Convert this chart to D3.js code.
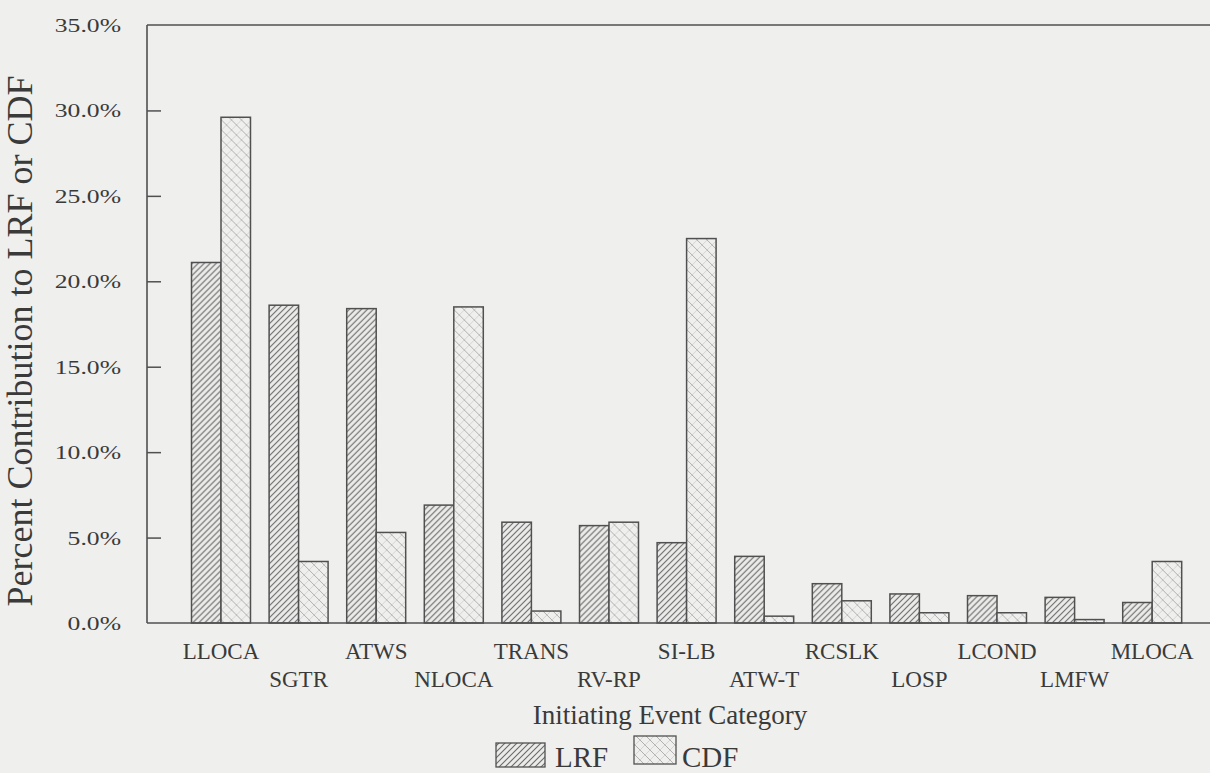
<!DOCTYPE html>
<html>
<head>
<meta charset="utf-8">
<script src="https://cdn.jsdelivr.net/npm/d3@7"></script>
<style>
  html, body { margin: 0; padding: 0; background: #efefed; }
  svg { display: block; }
  text { font-family: "Liberation Serif", "DejaVu Serif", serif; fill: #3a3a3a; }
</style>
</head>
<body>
<svg id="chart" width="1210" height="773"></svg>
<script>
// Initiating event categories, in plotted order
const categories = ["LLOCA", "SGTR", "ATWS", "NLOCA", "TRANS", "RV-RP", "SI-LB",
                    "ATW-T", "RCSLK", "LOSP", "LCOND", "LMFW", "MLOCA"];
const seriesNames = ["LRF", "CDF"];
// Percent contribution to large release frequency
const lrfValues = [21.1, 18.6, 18.4, 6.9, 5.9, 5.7, 4.7, 3.9, 2.3, 1.7, 1.6, 1.5, 1.2];
// Percent contribution to core damage frequency
const cdfValues = [29.6, 3.6, 5.3, 18.5, 0.7, 5.9, 22.5, 0.4, 1.3, 0.6, 0.6, 0.2, 3.6];
const yTicks = [0, 5, 10, 15, 20, 25, 30, 35];

const svg = d3.select("#chart");
const W = 1210;
const axisX = 147, plotTop = 25, plotBottom = 623;

// hatch patterns for the two series
const defs = svg.append("defs");
const pL = defs.append("pattern").attr("id", "hatchLRF")
  .attr("patternUnits", "userSpaceOnUse").attr("width", 6).attr("height", 6);
pL.append("rect").attr("width", 6).attr("height", 6).attr("fill", "#ebebe9");
pL.append("path").attr("d", "M-1,1 l2,-2 M0,6 l6,-6 M5,7 l2,-2")
  .attr("stroke", "#6a6a6a").attr("stroke-width", 1.1);

const pC = defs.append("pattern").attr("id", "hatchCDF")
  .attr("patternUnits", "userSpaceOnUse").attr("width", 10).attr("height", 10);
pC.append("rect").attr("width", 10).attr("height", 10).attr("fill", "#efefed");
pC.append("path").attr("d", "M0,0 l10,10 M-1,9 l2,2 M9,-1 l2,2")
  .attr("stroke", "#a8a8a8").attr("stroke-width", 0.9);
pC.append("path").attr("d", "M0,10 l10,-10")
  .attr("stroke", "#c8c8c8").attr("stroke-width", 0.7);

const fills = { LRF: "url(#hatchLRF)", CDF: "url(#hatchCDF)" };

// scales
const x0 = d3.scaleBand().domain(categories).range([182.2, 1191])
  .paddingInner(0.24).paddingOuter(0.12);
const x1 = d3.scaleBand().domain(seriesNames).range([0, x0.bandwidth()]);
const y = d3.scaleLinear().domain([0, 35]).range([plotBottom, plotTop]);

const data = categories.map((c, i) => ({ cat: c, LRF: lrfValues[i], CDF: cdfValues[i] }));

// bars
const groups = svg.append("g").selectAll("g").data(data).join("g")
  .attr("transform", d => `translate(${x0(d.cat)},0)`);
groups.selectAll("rect")
  .data(d => seriesNames.map(s => ({ s, v: d[s] })))
  .join("rect")
  .attr("x", d => x1(d.s))
  .attr("y", d => y(d.v))
  .attr("width", x1.bandwidth())
  .attr("height", d => y(0) - y(d.v))
  .attr("fill", d => fills[d.s])
  .attr("stroke", "#505050")
  .attr("stroke-width", 1.5);

// frame: left axis, top line, baseline
const frame = svg.append("g").attr("stroke", "#505050").attr("stroke-width", 1.6);
frame.append("line").attr("x1", axisX).attr("x2", axisX).attr("y1", y(35)).attr("y2", y(0));
frame.append("line").attr("x1", axisX).attr("x2", W).attr("y1", y(35)).attr("y2", y(35));
frame.append("line").attr("x1", axisX).attr("x2", W).attr("y1", y(0)).attr("y2", y(0));

// y axis ticks (inward) and labels
const yAxis = d3.axisRight(y).tickValues(yTicks).tickSize(14).tickFormat("");
const yg = svg.append("g").attr("transform", `translate(${axisX},0)`).call(yAxis);
yg.select(".domain").remove();
yg.selectAll(".tick line").attr("stroke", "#505050").attr("stroke-width", 1.5);
yg.selectAll(".tick").filter(d => d === 0 || d === 35).select("line").remove();

svg.append("g").selectAll("text").data(yTicks).join("text")
  .attr("transform", d => `translate(121,${y(d) + 7}) scale(1.35,1)`)
  .attr("text-anchor", "end").attr("font-size", 19)
  .text(d => d.toFixed(1) + "%");

// category labels, staggered on two rows
svg.append("g").selectAll("text").data(categories).join("text")
  .attr("x", d => x0(d) + x0.bandwidth() / 2)
  .attr("y", (d, i) => i % 2 === 0 ? 659 : 687)
  .attr("text-anchor", "middle").attr("font-size", 23)
  .text(d => d);

// axis titles
svg.append("text")
  .attr("transform", "translate(32,341) rotate(-90)")
  .attr("text-anchor", "middle").attr("font-size", 36)
  .text("Percent Contribution to LRF or CDF");
svg.append("text")
  .attr("x", 670).attr("y", 724)
  .attr("text-anchor", "middle").attr("font-size", 27)
  .text("Initiating Event Category");

// legend
const legendItems = [
  { s: "LRF", bx: 496, by: 743, w: 49, h: 24, tx: 555 },
  { s: "CDF", bx: 634, by: 736, w: 42, h: 28, tx: 682 }
];
const lg = svg.append("g");
lg.selectAll("rect").data(legendItems).join("rect")
  .attr("x", d => d.bx).attr("y", d => d.by)
  .attr("width", d => d.w).attr("height", d => d.h)
  .attr("fill", d => fills[d.s]).attr("stroke", "#505050").attr("stroke-width", 1.3);
lg.selectAll("text").data(legendItems).join("text")
  .attr("x", d => d.tx).attr("y", 767)
  .attr("font-size", 29)
  .text(d => d.s);
</script>
</body>
</html>
